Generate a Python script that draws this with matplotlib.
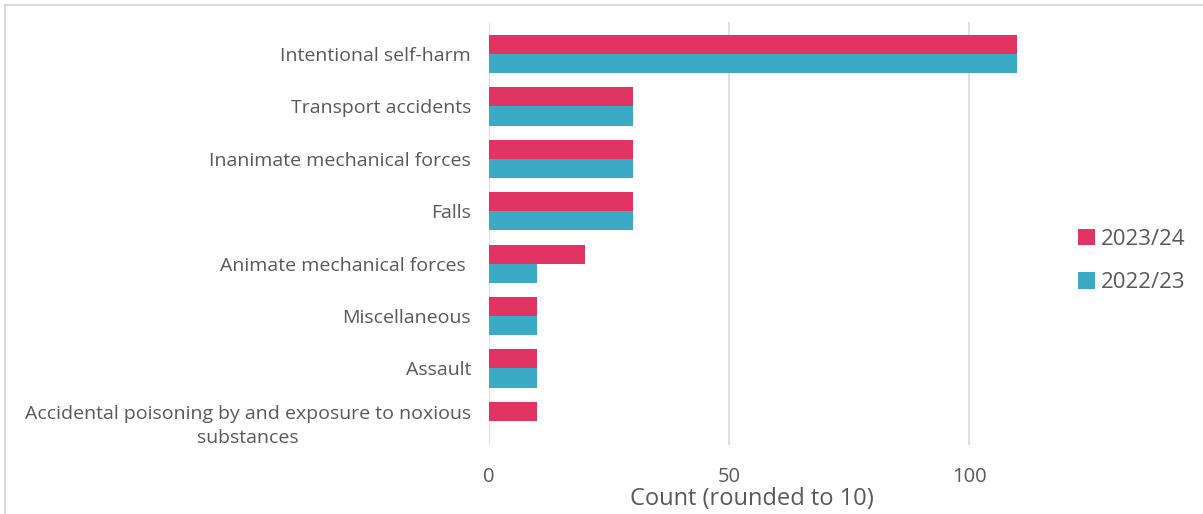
import matplotlib
matplotlib.use("Agg")
import matplotlib.pyplot as plt
from matplotlib.patches import Rectangle
import numpy as np

categories = [
    "Intentional self-harm",
    "Transport accidents",
    "Inanimate mechanical forces",
    "Falls",
    "Animate mechanical forces ",
    "Miscellaneous",
    "Assault",
    "Accidental poisoning by and exposure to noxious\nsubstances",
]
series_names = ["2023/24", "2022/23"]
values_2023_24 = [110, 30, 30, 30, 20, 10, 10, 10]
values_2022_23 = [110, 30, 30, 30, 10, 10, 10, 0]
xticks = [0, 50, 100]

PINK = "#E23462"
CYAN = "#3AAAC5"
TXT = "#595959"
FONT = ["Open Sans", "DejaVu Sans"]
plt.rcParams["font.family"] = FONT

fig = plt.figure(figsize=(12.03, 5.14), dpi=100)
fig.patches.append(Rectangle((5 / 1203, -0.1), 1.2, 1 - 5 / 514 + 0.1,
                             transform=fig.transFigure, fill=False,
                             edgecolor="#d9d9d9", linewidth=1.5))

ax = fig.add_axes([489 / 1203, 1 - 445 / 514, 576 / 1203, 423 / 514])
y = np.arange(len(categories))
h = 0.365
ax.barh(y - h / 2, values_2023_24, height=h, color=PINK, label=series_names[0], zorder=3)
ax.barh(y + h / 2, values_2022_23, height=h, color=CYAN, label=series_names[1], zorder=3)

ax.set_ylim(7.46, -0.61)
ax.set_xlim(0, 120)
ax.set_xticks(xticks)
ax.set_yticks(y)
ax.set_yticklabels(categories, fontsize=14, color=TXT, multialignment="center",
                   linespacing=1.45)
ax.tick_params(axis="y", length=0, pad=13)
ax.tick_params(axis="x", length=0, pad=16, labelsize=14.5, labelcolor=TXT)
ax.grid(axis="x", color="#d9d9d9", linewidth=1.2, zorder=0)
for s in ax.spines.values():
    s.set_visible(False)

fig.text(752 / 1203, 1 - 499 / 514, "Count (rounded to 10)", ha="center", va="center",
         fontsize=17, color=TXT)

leg = fig.legend(loc="center left", bbox_to_anchor=(1058 / 1203, 1 - 261 / 514),
                 frameon=False, fontsize=16, handlelength=0.75, handleheight=0.75,
                 handletextpad=0.3, labelspacing=1.0, labelcolor=TXT)

fig.savefig("out.png", dpi=100)
